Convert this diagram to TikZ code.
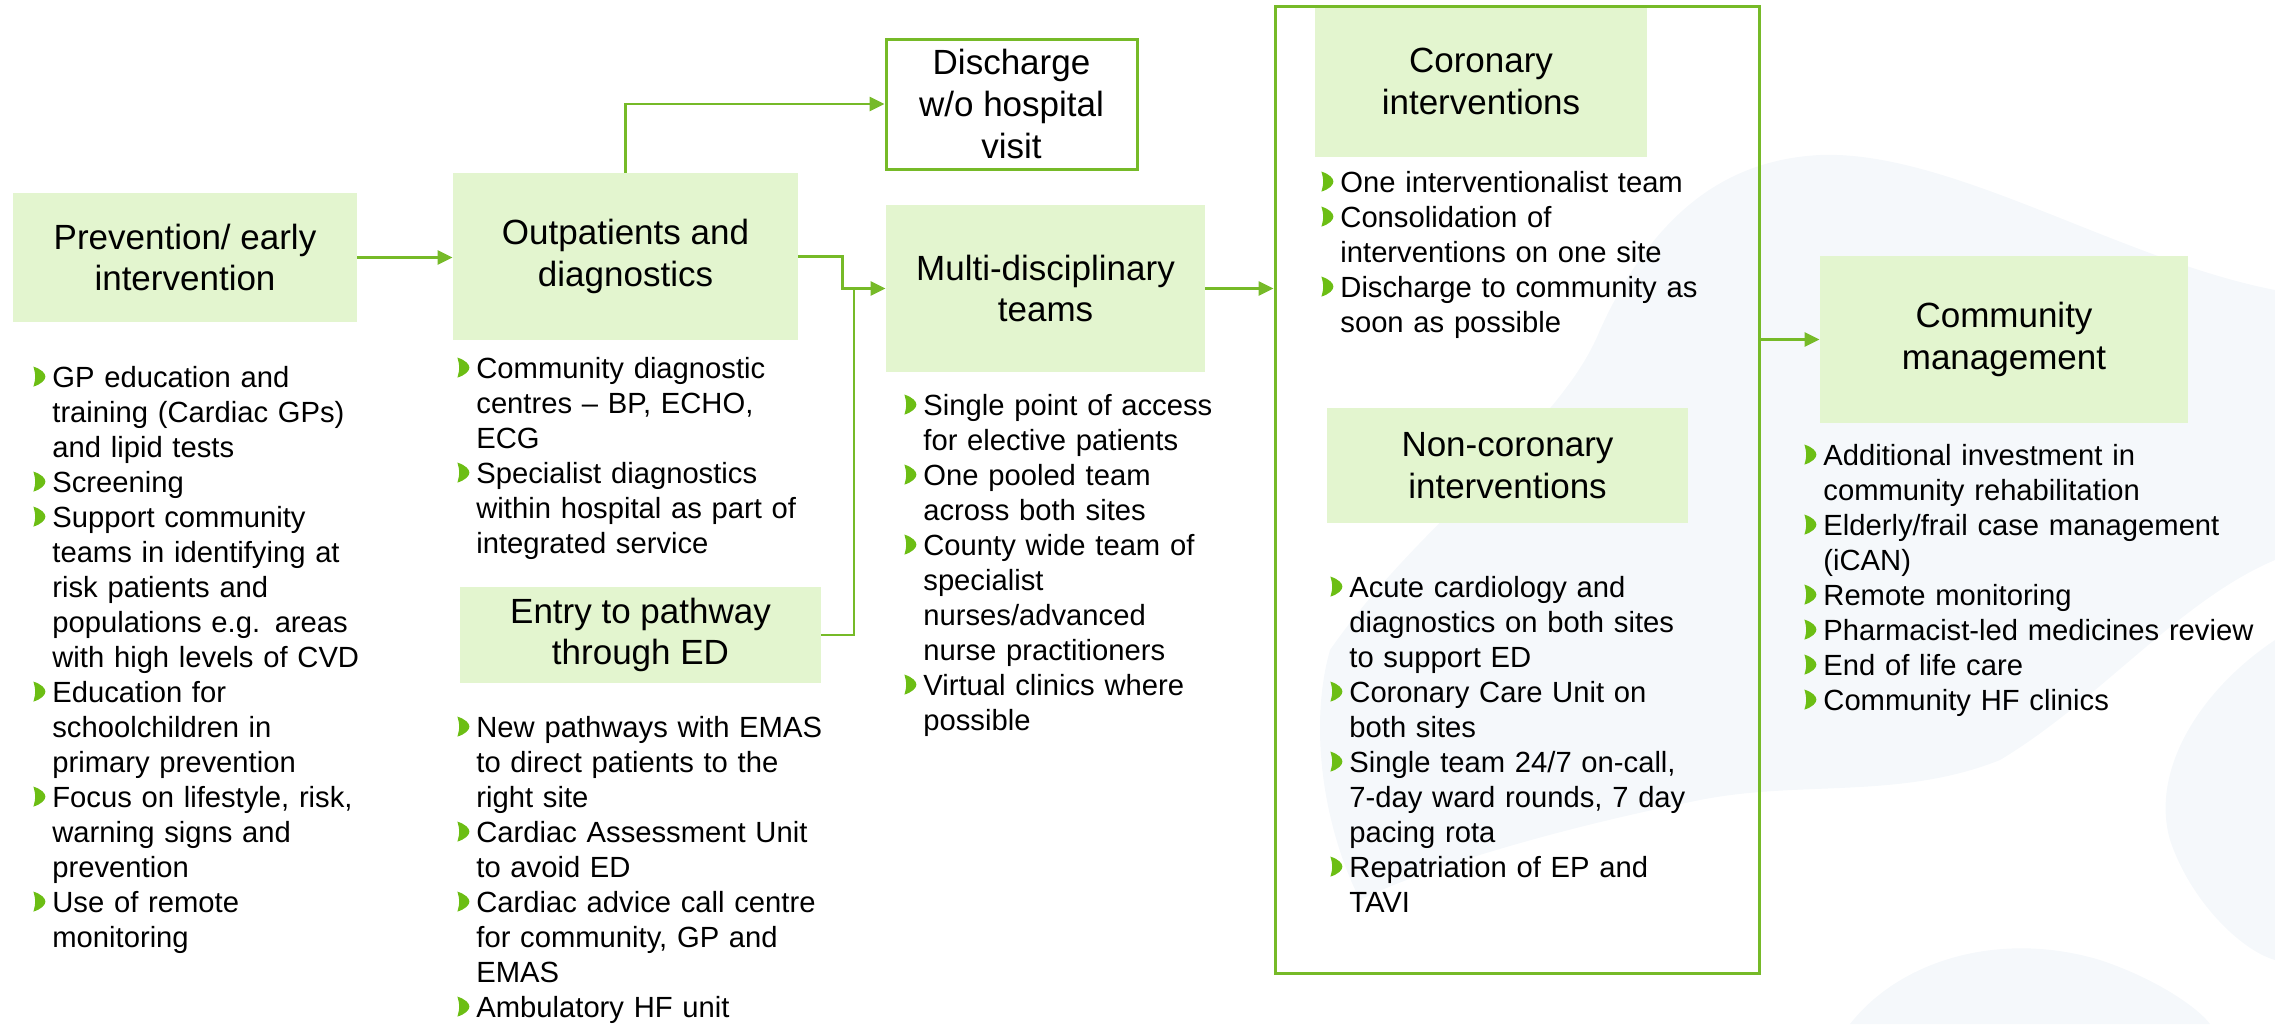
\documentclass[tikz,border=0pt]{standalone}
\usepackage{fontspec}
\setmainfont{Liberation Sans}
\usetikzlibrary{arrows.meta}
\definecolor{lgreen}{RGB}{118,186,40}
\definecolor{boxfill}{RGB}{227,245,207}
\definecolor{bulgreen}{RGB}{108,190,20}
\definecolor{bgshape}{RGB}{245,248,251}
\newcommand{\chevron}{\tikz[x=6pt,y=10pt,baseline=0pt]\fill[bulgreen] (0,0) .. controls (0.65,0.12) and (1,0.33) .. (1,0.5) .. controls (1,0.67) and (0.65,0.88) .. (0,1) .. controls (0.1,0.8) and (0.15,0.62) .. (0.15,0.5) .. controls (0.15,0.38) and (0.1,0.2) .. (0,0) -- cycle;}
\newcommand{\bi}{\makebox[9.5pt][l]{\raisebox{0.2pt}{\chevron}}}
\newcommand{\ci}{\hspace*{9.5pt}}
\begin{document}
\begin{tikzpicture}[x=0.5pt,y=-0.5pt,
  tbox/.style={fill=boxfill, inner sep=0pt, align=center, font=\fontsize{17.5}{20.8}\selectfont},
  blist/.style={anchor=base west, inner sep=0pt, text width=250pt, align=left, font=\fontsize{14.6}{17.5}\selectfont},
  conn/.style={draw=lgreen, line width=1.3pt},
  arr/.style={conn, -{Triangle[length=7.5pt,width=7pt]}}]
\useasboundingbox (0,0) rectangle (2275,1024);
% faint background shapes
\fill[bgshape] (1330,650) .. controls (1420,520) and (1560,430) .. (1600,330) .. controls (1650,220) and (1720,160) .. (1820,155) .. controls (1950,150) and (2120,260) .. (2275,290) -- (2275,560) .. controls (2180,600) and (2100,700) .. (2000,760) .. controls (1900,800) and (1800,780) .. (1700,800) .. controls (1550,830) and (1420,870) .. (1360,900) .. controls (1320,820) and (1310,720) .. (1330,650) -- cycle;
\fill[bgshape] (2275,640) .. controls (2200,690) and (2150,770) .. (2170,840) .. controls (2190,900) and (2240,950) .. (2275,960) -- cycle;
\fill[bgshape] (1850,1024) .. controls (1900,960) and (2000,930) .. (2100,960) .. controls (2160,980) and (2200,1010) .. (2210,1024) -- cycle;
% title boxes
\node[tbox, minimum width=172pt, minimum height=64.5pt] (prev) at (185,257.5) {Prevention/ early\\intervention};
\node[tbox, minimum width=172.5pt, minimum height=83.5pt] (outp) at (625.5,256.5) {Outpatients and\\diagnostics};
\node[tbox, fill=white, draw=lgreen, line width=1.5pt, minimum width=125.5pt, minimum height=65pt] (disch) at (1011.5,104) {Discharge\\w/o hospital\\visit};
\node[tbox, minimum width=159.5pt, minimum height=83.5pt] (mdt) at (1045.5,288.5) {Multi-disciplinary\\teams};
\node[tbox, minimum width=180.5pt, minimum height=48pt] (ed) at (640.5,635) {Entry to pathway\\through ED};
\node[tbox, minimum width=166pt, minimum height=75.5pt] (coron) at (1481,81.5) {Coronary\\interventions};
\node[tbox, minimum width=180.5pt, minimum height=57.5pt] (noncor) at (1507.5,465.5) {Non-coronary\\interventions};
\node[tbox, minimum width=184pt, minimum height=83.5pt] (comm) at (2004,339.5) {Community\\management};
\node[draw=lgreen, line width=1.5pt, inner sep=0pt, minimum width=242pt, minimum height=483.5pt] (frame) at (1517,489.5) {};
% bullet lists
\node[blist] (lprev) at (33,387) {\bi GP education and\\\ci training (Cardiac GPs)\\\ci and lipid tests\\\bi Screening\\\bi Support community\\\ci teams in identifying at\\\ci risk patients and\\\ci populations e.g. areas\\\ci with high levels of CVD\\\bi Education for\\\ci schoolchildren in\\\ci primary prevention\\\bi Focus on lifestyle, risk,\\\ci warning signs and\\\ci prevention\\\bi Use of remote\\\ci monitoring};
\node[blist] (loutp) at (457,378) {\bi Community diagnostic\\\ci centres – BP, ECHO,\\\ci ECG\\\bi Specialist diagnostics\\\ci within hospital as part of\\\ci integrated service};
\node[blist] (led) at (457,737) {\bi New pathways with EMAS\\\ci to direct patients to the\\\ci right site\\\bi Cardiac Assessment Unit\\\ci to avoid ED\\\bi Cardiac advice call centre\\\ci for community, GP and\\\ci EMAS\\\bi Ambulatory HF unit};
\node[blist] (lmdt) at (904,415) {\bi Single point of access\\\ci for elective patients\\\bi One pooled team\\\ci across both sites\\\bi County wide team of\\\ci specialist\\\ci nurses/advanced\\\ci nurse practitioners\\\bi Virtual clinics where\\\ci possible};
\node[blist] (lcoron) at (1321,192) {\bi One interventionalist team\\\bi Consolidation of\\\ci interventions on one site\\\bi Discharge to community as\\\ci soon as possible};
\node[blist] (lnoncor) at (1330,597) {\bi Acute cardiology and\\\ci diagnostics on both sites\\\ci to support ED\\\bi Coronary Care Unit on\\\ci both sites\\\bi Single team 24/7 on-call,\\\ci 7-day ward rounds, 7 day\\\ci pacing rota\\\bi Repatriation of EP and\\\ci TAVI};
\node[blist] (lcomm) at (1804,465) {\bi Additional investment in\\\ci community rehabilitation\\\bi Elderly/frail case management\\\ci (iCAN)\\\bi Remote monitoring\\\bi Pharmacist-led medicines review\\\bi End of life care\\\bi Community HF clinics};
% connectors
\coordinate (j) at (854,288.5);
\draw[arr] (prev.east) -- (prev.east -| outp.west);
\draw[arr] (outp.north) |- (disch.west);
\draw[arr] (outp.east) -- ++(44,0) |- (mdt.west);
\draw[conn] (ed.east) -| (j);
\draw[arr] (mdt.east) -- (mdt.east -| frame.west);
\draw[arr] (comm.west -| frame.east) -- (comm.west);
\end{tikzpicture}
\end{document}
